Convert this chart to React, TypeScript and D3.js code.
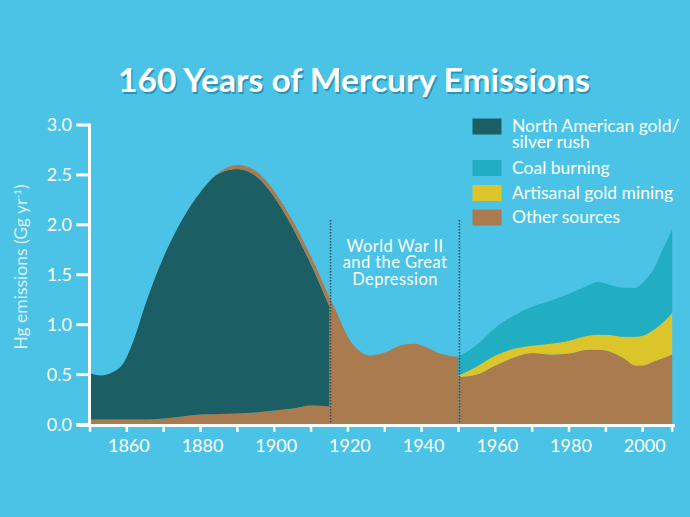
import React from "react";
import * as d3 from "d3";

// 1850-1915: gold/silver rush era
const yearsRush = [1850, 1853, 1856, 1859, 1862, 1865, 1870, 1875, 1880, 1885, 1890, 1895, 1900, 1905, 1910, 1915];
const otherRush = [0.05, 0.05, 0.05, 0.05, 0.05, 0.05, 0.06, 0.08, 0.1, 0.105, 0.11, 0.12, 0.14, 0.16, 0.19, 0.18];
const goldRush = [0.46, 0.44, 0.47, 0.56, 0.81, 1.15, 1.62, 1.97, 2.23, 2.41, 2.45, 2.37, 2.14, 1.81, 1.41, 1.0];
const otherRushTop = [0, 0, 0, 0, 0, 0, 0, 0, 0, 0.01, 0.04, 0.05, 0.06, 0.07, 0.08, 0.09];

// 1915-1950: war and depression
const yearsWar = [1915, 1917, 1919, 1921, 1923, 1926, 1930, 1934, 1938, 1941, 1945, 1950];
const otherWar = [1.27, 1.12, 0.95, 0.82, 0.74, 0.69, 0.72, 0.79, 0.81, 0.78, 0.71, 0.675];

// 1950-2008: modern
const yearsModern = [1950, 1955, 1960, 1965, 1970, 1975, 1980, 1985, 1988, 1990, 1995, 1998, 2000, 2003, 2006, 2008];
const otherModern = [0.475, 0.5, 0.59, 0.67, 0.715, 0.7, 0.71, 0.75, 0.75, 0.74, 0.66, 0.59, 0.59, 0.63, 0.67, 0.7];
const artisanal = [0.015, 0.08, 0.1, 0.09, 0.075, 0.11, 0.13, 0.14, 0.15, 0.16, 0.22, 0.29, 0.3, 0.32, 0.37, 0.42];
const coal = [0.19, 0.22, 0.28, 0.33, 0.39, 0.43, 0.47, 0.5, 0.53, 0.51, 0.49, 0.49, 0.53, 0.61, 0.76, 0.83];

const yTicks = [0, 0.5, 1, 1.5, 2, 2.5, 3];
const xTicks = [1850, 1860, 1870, 1880, 1890, 1900, 1910, 1920, 1930, 1940, 1950, 1960, 1970, 1980, 1990, 2000, 2008];
const xLabels = [1860, 1880, 1900, 1920, 1940, 1960, 1980, 2000];
const dividers = [1915, 1950];
const noteLines = ["World War II", "and the Great", "Depression"];

const legendItems = [
  { label: ["North American gold/", "silver rush"], color: "#1B5E63" },
  { label: ["Coal burning"], color: "#22AEC2" },
  { label: ["Artisanal gold mining"], color: "#DCC52A" },
  { label: ["Other sources"], color: "#A97B4E" },
];

const BG = "#4AC3E6";
const BROWN = "#A97B4E";
const TEAL = "#1B5E63";
const COAL = "#22AEC2";
const YELLOW = "#DCC52A";
const FONT = "Lato, 'Open Sans', sans-serif";

export default function App() {
  const width = 690;
  const height = 517;

  const x = d3.scaleLinear().domain([1850, 2000]).range([90, 642.7]);
  const y = d3.scaleLinear().domain([0, 3]).range([424.5, 125]);

  const area = d3
    .area<d3.SeriesPoint<any>>()
    .x((d) => x(d.data.year))
    .y0((d) => y(d[0]))
    .y1((d) => y(d[1]))
    .curve(d3.curveMonotoneX);

  const rushRows = yearsRush.map((year, i) => ({ year, other: otherRush[i], gold: goldRush[i], top: otherRushTop[i] }));
  const warRows = yearsWar.map((year, i) => ({ year, other: otherWar[i] }));
  const modernRows = yearsModern.map((year, i) => ({ year, other: otherModern[i], artisanal: artisanal[i], coal: coal[i] }));

  const rushStack = d3.stack<any>().keys(["other", "gold", "top"])(rushRows);
  const warStack = d3.stack<any>().keys(["other"])(warRows);
  const modernStack = d3.stack<any>().keys(["other", "artisanal", "coal"])(modernRows);

  const rushColors = [BROWN, TEAL, BROWN];
  const modernColors = [BROWN, YELLOW, COAL];

  return (
    <svg width={width} height={height} style={{ position: "absolute", left: 0, top: 0 }} fontFamily={FONT}>
      <rect width={width} height={height} fill={BG} />

      <text x={355.5} y={93.5} textAnchor="middle" fontSize={32} fontWeight={700} fill="#2B93B6" textLength={472} lengthAdjust="spacingAndGlyphs">
        160 Years of Mercury Emissions
      </text>
      <text x={354} y={92} textAnchor="middle" fontSize={32} fontWeight={700} fill="#fff" textLength={472} lengthAdjust="spacingAndGlyphs">
        160 Years of Mercury Emissions
      </text>

      {rushStack.map((s, i) => (
        <path key={"r" + i} d={area(s) || ""} fill={rushColors[i]} />
      ))}
      {warStack.map((s, i) => (
        <path key={"w" + i} d={area(s) || ""} fill={BROWN} />
      ))}
      {modernStack.map((s, i) => (
        <path key={"m" + i} d={area(s) || ""} fill={modernColors[i]} />
      ))}

      {dividers.map((yr) => (
        <line key={yr} x1={x(yr) + 1} x2={x(yr) + 1} y1={220} y2={424} stroke="#3C4E57" strokeWidth={1.6} strokeDasharray="1.5,1.5" />
      ))}

      <g fill="#fff" fontSize={16.5} textAnchor="middle" letterSpacing={0.4}>
        {noteLines.map((line, i) => (
          <text key={i} x={395} y={251.5 + i * 16.8}>
            {line}
          </text>
        ))}
      </g>

      {/* axes */}
      <g stroke="#fff" strokeWidth={3}>
        <line x1={89.5} x2={89.5} y1={123.5} y2={427} />
        <line x1={76} x2={675} y1={425.5} y2={425.5} />
        {yTicks.map((t) => (
          <line key={t} x1={76} x2={90} y1={y(t)} y2={y(t)} />
        ))}
        {xTicks.map((t) => (
          <line key={t} x1={x(t)} x2={x(t)} y1={425} y2={432} strokeWidth={2.5} />
        ))}
      </g>
      <g fill="#fff" fontSize={18} textAnchor="end">
        {yTicks.map((t) => (
          <text key={t} x={72} y={y(t)} dy="0.36em">
            {t.toFixed(1)}
          </text>
        ))}
      </g>
      <g fill="#fff" fontSize={18} textAnchor="middle">
        {xLabels.map((t) => (
          <text key={t} x={x(t) + 2} y={452}>
            {t}
          </text>
        ))}
      </g>
      <text transform="translate(27,267) rotate(-90)" textAnchor="middle" fontSize={17.5} fill="#D6EFF8">
        Hg emissions (Gg yr
        <tspan fontSize={10} dy={-6}>-1</tspan>
        <tspan dy={6}>)</tspan>
      </text>

      {/* legend */}
      {legendItems.map((item, i) => {
        const top = [118.5, 160, 185, 209.5][i];
        return (
          <g key={i}>
            <rect x={472.5} y={top} width={29} height={16} fill={item.color} />
            {item.label.map((line, j) => (
              <text key={j} x={512} y={top + 13.5 + j * 16} fontSize={17.5} fill="#fff">
                {line}
              </text>
            ))}
          </g>
        );
      })}
    </svg>
  );
}
